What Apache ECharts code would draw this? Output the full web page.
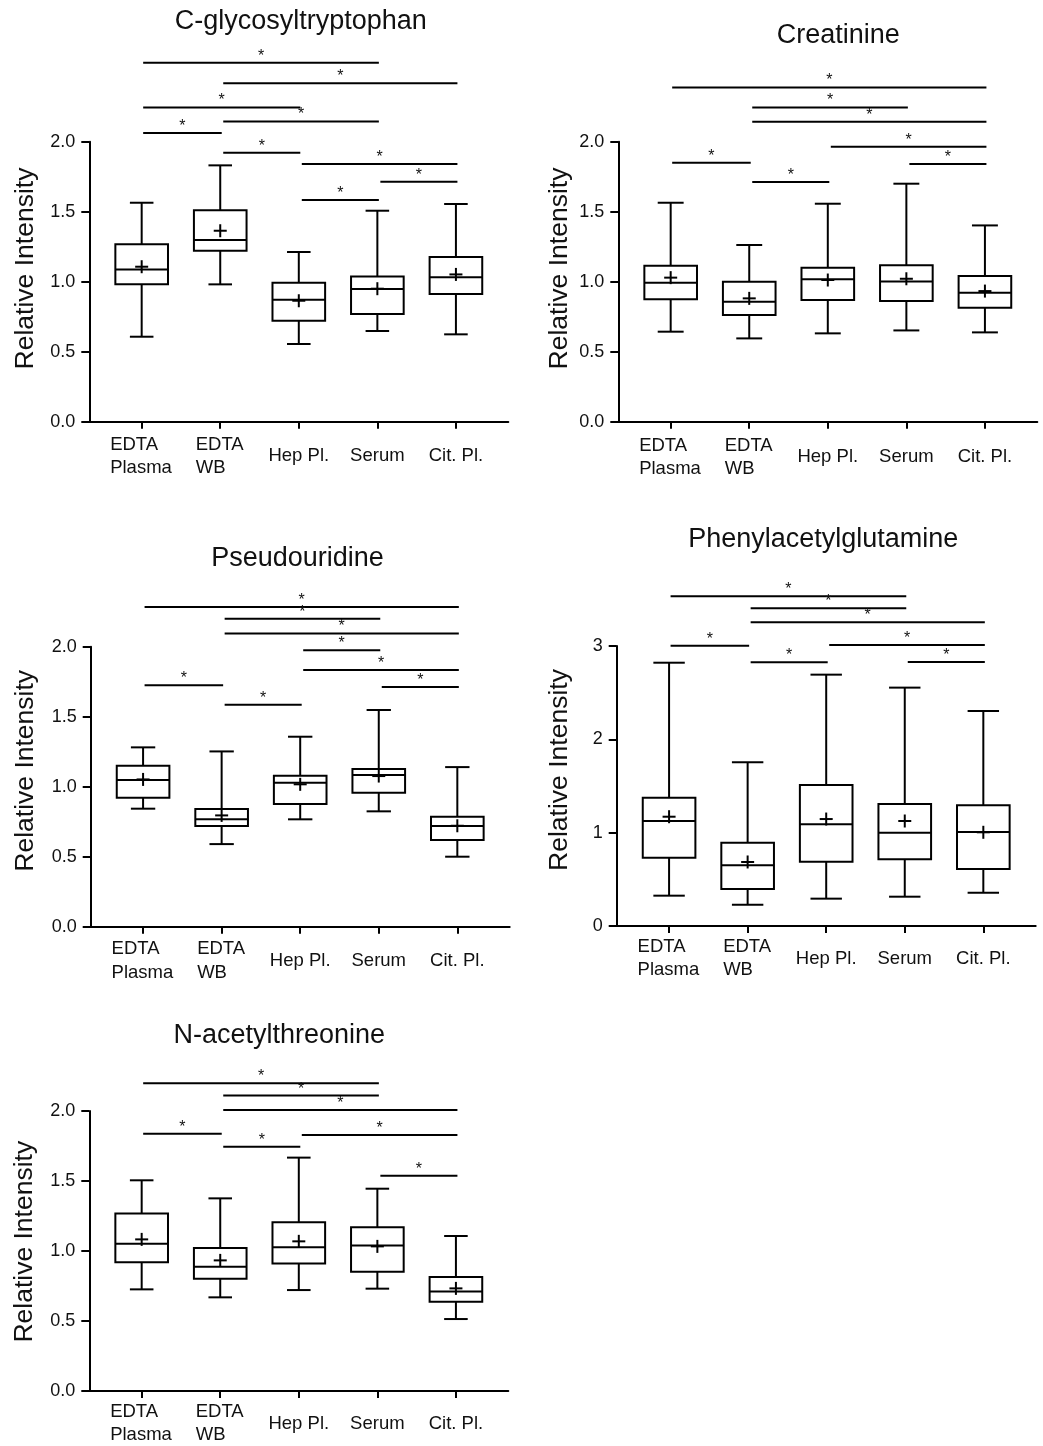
<!DOCTYPE html>
<html><head><meta charset="utf-8">
<script src="https://cdn.jsdelivr.net/npm/echarts@6/dist/echarts.min.js"></script>
<style>html,body{margin:0;padding:0;background:#fff}#c{width:1043px;height:1446px}</style>
</head><body><div id="c"></div>
<script>
// ---------------- data ----------------
const categories = ['EDTA\nPlasma', 'EDTA\nWB', 'Hep Pl.', 'Serum', 'Cit. Pl.'];
const yAxisName = 'Relative Intensity';

// box stats per category: [min, Q1, median, Q3, max]
const cgtTitle = 'C-glycosyltryptophan';
const cgtBoxes = [[0.607,0.981,1.088,1.267,1.564],[0.981,1.221,1.298,1.510,1.831],[0.555,0.721,0.871,0.993,1.212],[0.648,0.769,0.948,1.038,1.507],[0.624,0.912,1.031,1.176,1.555]];
const cgtMeans = [1.107, 1.364, 0.864, 0.950, 1.052];
const cgtSig = [[0,3,2.564],[1,4,2.417],[0,2,2.245],[1,3,2.145],[0,1,2.062],[1,2,1.921],[2,4,1.840],[3,4,1.714],[2,3,1.583]];

const creTitle = 'Creatinine';
const creBoxes = [[0.643,0.874,0.993,1.114,1.564],[0.595,0.762,0.857,1.000,1.262],[0.631,0.869,1.017,1.100,1.557],[0.652,0.862,1.002,1.117,1.700],[0.638,0.814,0.921,1.040,1.402]];
const creMeans = [1.029, 0.881, 1.012, 1.021, 0.933];
const creSig = [[0,4,2.388],[1,3,2.245],[1,4,2.143],[2,4,1.964],[0,1,1.850],[3,4,1.840],[1,2,1.712]];

const psuTitle = 'Pseudouridine';
const psuBoxes = [[0.843,0.921,1.048,1.150,1.281],[0.590,0.719,0.767,0.840,1.252],[0.767,0.876,1.029,1.079,1.357],[0.824,0.957,1.083,1.126,1.548],[0.500,0.619,0.719,0.786,1.140]];
const psuMeans = [1.052, 0.795, 1.017, 1.076, 0.721];
const psuSig = [[0,4,2.283],[1,3,2.200],[1,4,2.095],[2,3,1.974],[2,4,1.833],[0,1,1.724],[3,4,1.712],[1,2,1.586]];

const pagTitle = 'Phenylacetylglutamine';
const pagBoxes = [[0.325,0.732,1.125,1.375,2.821],[0.229,0.396,0.650,0.893,1.754],[0.293,0.689,1.089,1.511,2.693],[0.314,0.714,1.000,1.307,2.554],[0.357,0.611,1.007,1.293,2.304]];
const pagMeans = [1.171, 0.686, 1.146, 1.125, 1.004];
const pagSig = [[0,3,3.532],[1,3,3.404],[1,4,3.254],[0,1,3.004],[2,4,3.011],[1,2,2.825],[3,4,2.829]];

const natTitle = 'N-acetylthreonine';
const natBoxes = [[0.726,0.919,1.052,1.267,1.505],[0.669,0.802,0.888,1.021,1.376],[0.721,0.910,1.026,1.205,1.667],[0.731,0.852,1.040,1.169,1.445],[0.514,0.638,0.710,0.814,1.107]];
const natMeans = [1.083, 0.933, 1.069, 1.033, 0.733];
const natSig = [[0,3,2.198],[1,3,2.110],[1,4,2.007],[0,1,1.838],[2,4,1.829],[1,2,1.745],[3,4,1.538]];

const yTicks2 = {max: 2, interval: 0.5, decimals: 1};
const yTicks3 = {max: 3, interval: 1, decimals: 0};

// ---------------- layout / style ----------------
const FONT = '"Liberation Sans", Arial, Helvetica, sans-serif';
const INK = '#000';
const TXT = '#111';
const GRID_W = 419, GRID_H = 280;
const BOX_W = 0.67;
const LABEL_FS = 18.5;

const panels = [
  {title: cgtTitle, boxes: cgtBoxes, means: cgtMeans, sig: cgtSig, y: yTicks2,
   L: {left: 89.3, top: 141.7, tx: 300.8, ty: 22, nx: 25.8, ny: 268.5, lm: 34.5, capW: 0.30}},
  {title: creTitle, boxes: creBoxes, means: creMeans, sig: creSig, y: yTicks2,
   L: {left: 618.3, top: 141.7, tx: 838.3, ty: 35.8, nx: 559.8, ny: 268.5, lm: 35.5, capW: 0.33}},
  {title: psuTitle, boxes: psuBoxes, means: psuMeans, sig: psuSig, y: yTicks2,
   L: {left: 90.7, top: 646.7, tx: 297.5, ty: 558.3, nx: 25.5, ny: 770.8, lm: 34, capW: 0.31}},
  {title: pagTitle, boxes: pagBoxes, means: pagMeans, sig: pagSig, y: yTicks3,
   L: {left: 616.7, top: 646, tx: 823.3, ty: 539.2, nx: 560, ny: 770, lm: 32.5, capW: 0.40}},
  {title: natTitle, boxes: natBoxes, means: natMeans, sig: natSig, y: yTicks2,
   L: {left: 89.3, top: 1111, tx: 279.2, ty: 1035.3, nx: 25, ny: 1241.7, lm: 32.5, capW: 0.30}}
];

// rich styles so multi-line category labels are left-aligned in a centred block
const ctx = document.createElement('canvas').getContext('2d');
ctx.font = LABEL_FS + 'px "Liberation Sans"';
const rich = {};
categories.forEach((c, i) => {
  const w = Math.max(...c.split('\n').map(s => ctx.measureText(s).width));
  rich['c' + i] = {width: Math.ceil(w) + 1, align: 'left', fontSize: LABEL_FS, lineHeight: 23.5, fontFamily: FONT, color: TXT};
});
function catLabel(v) {
  const i = Math.round(v);
  const c = categories[i];
  if (c === undefined) return '';
  if (c.indexOf('\n') < 0) return c;
  return c.split('\n').map(s => '{c' + i + '|' + s + '}').join('\n');
}

function boxRender(capW) {
  return function (params, api) {
    const x = api.value(0);
    const unit = api.size([1, 0])[0];
    const hw = unit * BOX_W / 2, cw = unit * capW / 2;
    const cx = api.coord([x, api.value(3)])[0];
    const Y = d => api.coord([x, api.value(d)])[1];
    const yMin = Y(1), yQ1 = Y(2), yMed = Y(3), yQ3 = Y(4), yMax = Y(5), yMean = Y(6);
    const st = {stroke: INK, lineWidth: 2, fill: null};
    const ln = (x1, y1, x2, y2) => ({type: 'line', shape: {x1, y1, x2, y2}, style: st});
    return {type: 'group', children: [
      ln(cx, yQ3, cx, yMax),
      ln(cx, yQ1, cx, yMin),
      ln(cx - cw, yMax, cx + cw, yMax),
      ln(cx - cw, yMin, cx + cw, yMin),
      {type: 'rect', shape: {x: cx - hw, y: yQ3, width: 2 * hw, height: yQ1 - yQ3}, style: {stroke: INK, lineWidth: 2, fill: '#fff'}},
      ln(cx - hw, yMed, cx + hw, yMed),
      ln(cx - 6.5, yMean, cx + 6.5, yMean),
      ln(cx, yMean - 6.5, cx, yMean + 6.5)
    ]};
  };
}

function sigRender(params, api) {
  const v = api.value(2);
  const p1 = api.coord([api.value(0), v]);
  const p2 = api.coord([api.value(1), v]);
  const x1 = p1[0] + (api.value(0) > 0 ? 3 : 1.5), x2 = p2[0] + 1.5, y = p1[1];
  return {type: 'group', children: [
    {type: 'line', shape: {x1, y1: y, x2, y2: y}, style: {stroke: INK, lineWidth: 2}},
    {type: 'text', x: (x1 + x2) / 2, y: y - 6.5, style: {text: '*', fill: TXT, font: '16px ' + FONT, align: 'center', verticalAlign: 'middle'}}
  ]};
}

const grid = [], xAxis = [], yAxis = [], series = [], graphic = [];
panels.forEach((p, k) => {
  const L = p.L;
  grid.push({left: L.left, top: L.top, width: GRID_W, height: GRID_H, containLabel: false, outerBoundsMode: 'none'});
  xAxis.push({
    gridIndex: k, type: 'value', min: -2 / 3, max: 14 / 3,
    axisLine: {show: true, onZero: false, lineStyle: {color: INK, width: 2}},
    axisTick: {show: true, length: 7, lineStyle: {color: INK, width: 2}, customValues: [0, 1, 2, 3, 4]},
    axisLabel: {show: true, customValues: [0, 1, 2, 3, 4], formatter: catLabel, rich: rich,
      margin: L.lm, verticalAlign: 'middle', fontSize: LABEL_FS, lineHeight: 23.5, fontFamily: FONT, color: TXT},
    splitLine: {show: false}
  });
  yAxis.push({
    gridIndex: k, type: 'value', min: 0, max: p.y.max, interval: p.y.interval,
    axisLine: {show: true, onZero: false, lineStyle: {color: INK, width: 2}},
    axisTick: {show: true, length: 8, lineStyle: {color: INK, width: 2}},
    axisLabel: {fontSize: 18, fontFamily: FONT, color: TXT, margin: 14,
      formatter: (v) => Number(v).toFixed(p.y.decimals)},
    splitLine: {show: false}
  });
  series.push({
    type: 'custom', xAxisIndex: k, yAxisIndex: k, clip: false,
    renderItem: boxRender(L.capW),
    encode: {x: 0, y: [1, 2, 3, 4, 5, 6]},
    data: p.boxes.map((b, i) => [i].concat(b, [p.means[i]]))
  });
  series.push({
    type: 'custom', xAxisIndex: k, yAxisIndex: k, clip: false,
    renderItem: sigRender,
    encode: {x: [0, 1], y: 2},
    data: p.sig
  });
  graphic.push({type: 'text', x: L.tx, y: L.ty,
    style: {text: p.title, fill: TXT, font: '27px ' + FONT, align: 'center', verticalAlign: 'middle'}});
  graphic.push({type: 'text', x: L.nx, y: L.ny, rotation: Math.PI / 2,
    style: {text: yAxisName, fill: TXT, font: '26.5px ' + FONT, align: 'center', verticalAlign: 'middle'}});
});

const chart = echarts.init(document.getElementById('c'), null, {renderer: 'canvas'});
chart.setOption({
  backgroundColor: '#fff',
  animation: false,
  grid, xAxis, yAxis, series, graphic
});
</script>
</body></html>
